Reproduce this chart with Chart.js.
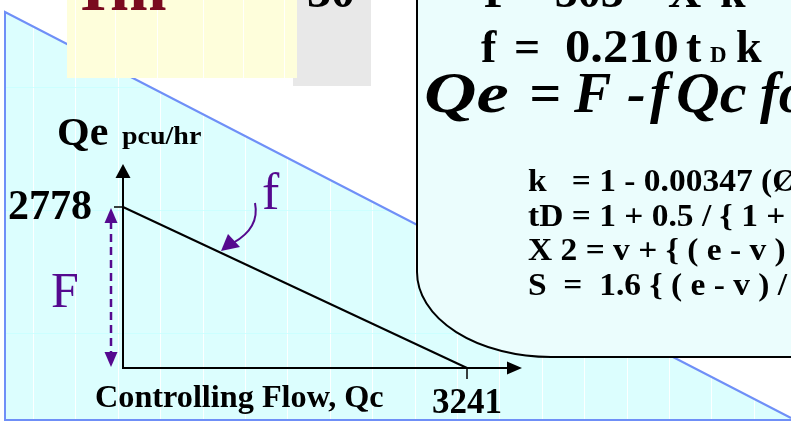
<!DOCTYPE html>
<html>
<head>
<meta charset="utf-8">
<script src="https://cdn.jsdelivr.net/npm/chart.js@4.4.0/dist/chart.umd.min.js"></script>
<style>
  html, body { margin: 0; padding: 0; background: #fff; }
  #wrap { width: 791px; height: 422px; position: relative; }
</style>
</head>
<body>
<div id="wrap"><canvas id="capacityChart"></canvas></div>
<script>
// entry capacity line: Qe = F - f Qc
const controllingFlow = [0, 3241];
const entryFlow = [2778, 0];
const tickLabels = ['2778', '3241'];
const yAxisTitle = 'Qe';
const yAxisUnit = 'pcu/hr';
const xAxisTitle = 'Controlling Flow, Qc';

const formulaLines = [
  'k   = 1 - 0.00347 (Ø - 30) - 0.978 (1/r - 0.05)',
  'tD = 1 + 0.5 / { 1 + exp ( ( D - 60 ) / 10 ) }',
  'X 2 = v + { ( e - v ) / ( 1 + 2 S ) }',
  'S  =  1.6 { ( e - v ) / l\' }'
];

const points = controllingFlow.map((x, i) => ({ x: x, y: entryFlow[i] }));

const SERIF = '"Liberation Serif", "Times New Roman", serif';
const PURPLE = '#55098f';

function txt(ctx, s, x, y, font, color, align, sx) {
  ctx.save();
  ctx.font = font;
  ctx.fillStyle = color || '#000';
  ctx.textAlign = align || 'left';
  ctx.textBaseline = 'alphabetic';
  ctx.translate(x, y);
  ctx.scale(sx || 1, 1);
  ctx.fillText(s, 0, 0);
  ctx.restore();
}

function arrowHead(ctx, x, y, dir, w, h, color) {
  // dir: 'up', 'down', 'right'
  ctx.fillStyle = color;
  ctx.beginPath();
  if (dir === 'up') { ctx.moveTo(x, y); ctx.lineTo(x - w / 2, y + h); ctx.lineTo(x + w / 2, y + h); }
  if (dir === 'down') { ctx.moveTo(x, y); ctx.lineTo(x - w / 2, y - h); ctx.lineTo(x + w / 2, y - h); }
  if (dir === 'right') { ctx.moveTo(x, y); ctx.lineTo(x - w, y - h / 2); ctx.lineTo(x - w, y + h / 2); }
  ctx.closePath();
  ctx.fill();
}

const slideBackground = {
  id: 'slideBackground',
  beforeDraw(chart) {
    const ctx = chart.ctx;
    const W = chart.width, H = chart.height;
    ctx.save();
    ctx.fillStyle = '#fff';
    ctx.fillRect(0, 0, W, H);

    // cyan wedge
    ctx.beginPath();
    ctx.moveTo(5, 12);
    ctx.lineTo(W, 418);
    ctx.lineTo(W, 420);
    ctx.lineTo(5, 420);
    ctx.closePath();
    ctx.fillStyle = '#dcfefe';
    ctx.fill();
    ctx.save();
    ctx.clip();
    ctx.strokeStyle = 'rgba(255,255,255,0.9)';
    ctx.lineWidth = 1;
    for (let gx = 33; gx < W; gx += 42.4) {
      ctx.beginPath(); ctx.moveTo(Math.round(gx) + 0.5, 0); ctx.lineTo(Math.round(gx) + 0.5, H); ctx.stroke();
    }
    ctx.strokeStyle = 'rgba(200,255,255,0.8)';
    [87, 210, 333].forEach(gy => {
      ctx.beginPath(); ctx.moveTo(0, gy + 0.5); ctx.lineTo(W, gy + 0.5); ctx.stroke();
    });
    ctx.restore();

    ctx.strokeStyle = '#6f8ff7';
    ctx.lineWidth = 2;
    ctx.beginPath();
    ctx.moveTo(W, 418);
    ctx.lineTo(5, 12);
    ctx.lineTo(5, 420);
    ctx.lineTo(W, 420);
    ctx.stroke();

    // gray box + yellow box at the top
    ctx.fillStyle = '#e8e8e8';
    ctx.fillRect(293, 0, 78, 86);
    txt(ctx, '30', 307, 7, 'bold 48px ' + SERIF, '#000');
    ctx.fillStyle = '#fefedb';
    ctx.fillRect(67, 0, 230, 78);
    ctx.strokeStyle = 'rgba(255,255,255,0.9)';
    ctx.lineWidth = 1;
    [75, 115, 157, 203, 243, 284].forEach(gx => {
      ctx.beginPath(); ctx.moveTo(gx + 0.5, 0); ctx.lineTo(gx + 0.5, 78); ctx.stroke();
    });
    txt(ctx, 'I', 80, 10, 'bold 68px ' + SERIF, '#7a0a1e');
    txt(ctx, 'm', 110, 10, 'bold 68px ' + SERIF, '#7a0a1e');

    // formula box with rounded bottom-left corner
    ctx.beginPath();
    ctx.moveTo(417, -10);
    ctx.lineTo(417, 272);
    ctx.ellipse(551, 272, 134, 85, 0, Math.PI, Math.PI / 2, true);
    ctx.lineTo(W + 10, 357);
    ctx.lineTo(W + 10, -10);
    ctx.closePath();
    ctx.fillStyle = '#ebfdfd';
    ctx.fill();
    ctx.strokeStyle = '#000';
    ctx.lineWidth = 2;
    ctx.stroke();

    const bold46 = 'bold 46px ' + SERIF;
    txt(ctx, 'F', 484, 7, bold46);
    txt(ctx, '= 303', 517, 7, bold46);
    txt(ctx, 'X', 668, 7, bold46);
    txt(ctx, 'k', 720, 7, bold46);

    txt(ctx, 'f', 481, 62, bold46);
    txt(ctx, '=', 514, 62, bold46);
    txt(ctx, '0.210', 565, 62, bold46, '#000', 'left', 1.1);
    txt(ctx, 't', 686, 62, bold46);
    txt(ctx, 'D', 710, 62, 'bold 23px ' + SERIF);
    txt(ctx, 'k', 736, 62, bold46);

    const bi = 'italic bold 56px ' + SERIF;
    txt(ctx, 'Qe', 424, 112, bi, '#000', 'left', 1.3);
    txt(ctx, '=', 529, 112, bi);
    txt(ctx, 'F', 574, 112, bi);
    txt(ctx, '-', 627, 112, bi);
    txt(ctx, 'f', 650, 112, bi);
    txt(ctx, 'Qc', 676, 112, bi, '#000', 'left', 1.08);
    txt(ctx, 'for', 760, 112, bi);

    formulaLines.forEach((line, i) => {
      txt(ctx, line, 528, 191 + i * 34.7, 'bold 31px ' + SERIF, '#000', 'left', 1.08);
    });
    ctx.restore();
  },
  afterDatasetsDraw(chart) {
    const ctx = chart.ctx;
    const sx = chart.scales.x, sy = chart.scales.y;
    const x0 = sx.getPixelForValue(controllingFlow[0]);
    const x1 = sx.getPixelForValue(controllingFlow[1]);
    const y0 = sy.getPixelForValue(0);
    const yF = sy.getPixelForValue(entryFlow[0]);
    ctx.save();

    // axes with arrows
    ctx.strokeStyle = '#000';
    ctx.lineWidth = 2;
    ctx.beginPath();
    ctx.moveTo(x0, 170);
    ctx.lineTo(x0, y0);
    ctx.lineTo(512, y0);
    ctx.stroke();
    arrowHead(ctx, x0, 164, 'up', 15, 14, '#000');
    arrowHead(ctx, 522, y0, 'right', 15, 13, '#000');

    // ticks
    ctx.lineWidth = 1.5;
    ctx.beginPath();
    ctx.moveTo(x0 - 9, yF); ctx.lineTo(x0, yF);
    ctx.moveTo(x1, y0); ctx.lineTo(x1, y0 + 11);
    ctx.stroke();

    txt(ctx, tickLabels[0], x0 - 31, yF + 12, 'bold 42px ' + SERIF, '#000', 'right');
    txt(ctx, tickLabels[1], x1, y0 + 45, 'bold 35px ' + SERIF, '#000', 'center');
    txt(ctx, xAxisTitle, 95, 407, 'bold 31px ' + SERIF, '#000', 'left', 1.04);
    txt(ctx, yAxisTitle, 57, 145, 'bold 40px ' + SERIF, '#000', 'left', 1.05);
    txt(ctx, yAxisUnit, 122, 144, 'bold 25px ' + SERIF, '#000', 'left', 1.12);

    // F: dashed double arrow
    const ax = x0 - 12;
    ctx.strokeStyle = PURPLE;
    ctx.lineWidth = 2.5;
    ctx.setLineDash([8, 5]);
    ctx.beginPath();
    ctx.moveTo(ax, yF + 14);
    ctx.lineTo(ax, y0 - 14);
    ctx.stroke();
    ctx.setLineDash([]);
    arrowHead(ctx, ax, yF + 1, 'up', 13, 15, PURPLE);
    arrowHead(ctx, ax, y0 - 1, 'down', 13, 15, PURPLE);
    txt(ctx, 'F', 51, 307, '50px ' + SERIF, PURPLE);

    // f: curved pointer to the line
    txt(ctx, 'f', 262, 209, '52px ' + SERIF, PURPLE);
    ctx.strokeStyle = PURPLE;
    ctx.lineWidth = 2;
    ctx.beginPath();
    ctx.moveTo(255, 203);
    ctx.quadraticCurveTo(260, 228, 233, 243);
    ctx.stroke();
    ctx.fillStyle = PURPLE;
    ctx.beginPath();
    ctx.moveTo(221, 251);
    ctx.lineTo(228, 234);
    ctx.lineTo(240, 247);
    ctx.closePath();
    ctx.fill();
    ctx.restore();
  }
};

new Chart(document.getElementById('capacityChart'), {
  type: 'scatter',
  data: {
    datasets: [{
      data: points,
      showLine: true,
      borderColor: '#000',
      borderWidth: 2,
      pointRadius: 0,
      clip: false
    }]
  },
  options: {
    responsive: true,
    maintainAspectRatio: false,
    animation: false,
    events: [],
    layout: { padding: { left: 123, right: 324, top: 207, bottom: 54 } },
    scales: {
      x: { type: 'linear', min: 0, max: controllingFlow[1], display: false },
      y: { type: 'linear', min: 0, max: entryFlow[0], display: false }
    },
    plugins: {
      legend: { display: false },
      tooltip: { enabled: false }
    }
  },
  plugins: [slideBackground]
});
</script>
</body>
</html>
